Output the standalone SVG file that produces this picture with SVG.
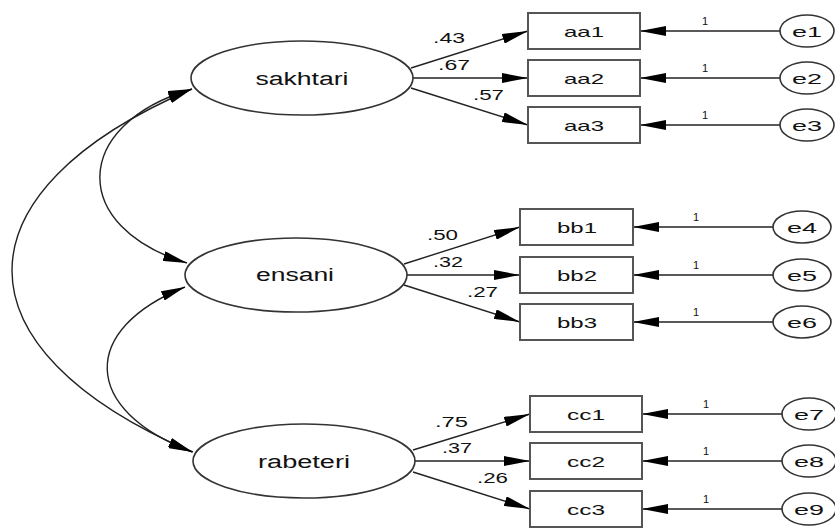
<svg xmlns="http://www.w3.org/2000/svg" width="835" height="528" viewBox="0 0 835 528">
<style>
text{font-family:"Liberation Sans",Arial,sans-serif;fill:#111;text-anchor:middle}
.lat{font-size:18px}
.obs{font-size:15px}
.err{font-size:15px}
.w{font-size:15px;text-anchor:start}
.one{font-size:11px;text-anchor:start}
ellipse{fill:#fff;stroke:#333;stroke-width:1.6}
rect{fill:#fff;stroke:#555;stroke-width:2}
.ln{fill:none;stroke:#222;stroke-width:1.4}
</style>
<defs>
<marker id="ah" markerUnits="userSpaceOnUse" markerWidth="26" markerHeight="10" refX="26" refY="5" orient="auto">
<path d="M0,0 L26,5 L0,10 z" fill="#000"/>
</marker>
<marker id="ch" markerUnits="userSpaceOnUse" markerWidth="24" markerHeight="10" refX="24" refY="5" orient="auto-start-reverse">
<path d="M0,0 L24,5 L0,10 z" fill="#000"/>
</marker>
</defs>
<g id="connectors">
<path class="ln" d="M192 89 C -48 192, -48 349, 192 452" marker-start="url(#ch)" marker-end="url(#ch)"/>
<path class="ln" d="M192 89 C 70 125, 70 228, 187 263" marker-start="url(#ch)" marker-end="url(#ch)"/>
<path class="ln" d="M185 287 C 80 329, 80 410, 193 452" marker-start="url(#ch)" marker-end="url(#ch)"/>
<line class="ln" x1="411" y1="68" x2="528" y2="31" marker-end="url(#ah)"/>
<line class="ln" x1="413" y1="78" x2="528" y2="78" marker-end="url(#ah)"/>
<line class="ln" x1="411" y1="88" x2="528" y2="125" marker-end="url(#ah)"/>
<line class="ln" x1="404" y1="264" x2="520" y2="227" marker-end="url(#ah)"/>
<line class="ln" x1="407" y1="275" x2="520" y2="275" marker-end="url(#ah)"/>
<line class="ln" x1="404" y1="285" x2="520" y2="322" marker-end="url(#ah)"/>
<line class="ln" x1="413" y1="450" x2="530" y2="414" marker-end="url(#ah)"/>
<line class="ln" x1="415" y1="461" x2="530" y2="461" marker-end="url(#ah)"/>
<line class="ln" x1="413" y1="472" x2="530" y2="509" marker-end="url(#ah)"/>
<line class="ln" x1="780" y1="31" x2="640" y2="31" marker-end="url(#ah)"/>
<line class="ln" x1="780" y1="78" x2="640" y2="78" marker-end="url(#ah)"/>
<line class="ln" x1="780" y1="125" x2="640" y2="125" marker-end="url(#ah)"/>
<line class="ln" x1="773" y1="227" x2="633" y2="227" marker-end="url(#ah)"/>
<line class="ln" x1="773" y1="275" x2="633" y2="275" marker-end="url(#ah)"/>
<line class="ln" x1="773" y1="322" x2="633" y2="322" marker-end="url(#ah)"/>
<line class="ln" x1="782" y1="414" x2="642" y2="414" marker-end="url(#ah)"/>
<line class="ln" x1="782" y1="461" x2="642" y2="461" marker-end="url(#ah)"/>
<line class="ln" x1="782" y1="509" x2="642" y2="509" marker-end="url(#ah)"/>
<text class="w" x="433" y="43" textLength="32" lengthAdjust="spacingAndGlyphs">.43</text>
<text class="w" x="438" y="70" textLength="32" lengthAdjust="spacingAndGlyphs">.67</text>
<text class="w" x="473" y="100" textLength="31" lengthAdjust="spacingAndGlyphs">.57</text>
<text class="w" x="427" y="240" textLength="31" lengthAdjust="spacingAndGlyphs">.50</text>
<text class="w" x="433" y="267" textLength="30" lengthAdjust="spacingAndGlyphs">.32</text>
<text class="w" x="467" y="297" textLength="31" lengthAdjust="spacingAndGlyphs">.27</text>
<text class="w" x="435" y="427" textLength="33" lengthAdjust="spacingAndGlyphs">.75</text>
<text class="w" x="442" y="453" textLength="30" lengthAdjust="spacingAndGlyphs">.37</text>
<text class="w" x="477" y="483" textLength="31" lengthAdjust="spacingAndGlyphs">.26</text>
<text class="one" x="702" y="25">1</text>
<text class="one" x="702" y="72">1</text>
<text class="one" x="702" y="119">1</text>
<text class="one" x="693" y="221">1</text>
<text class="one" x="693" y="269">1</text>
<text class="one" x="693" y="316">1</text>
<text class="one" x="703" y="408">1</text>
<text class="one" x="703" y="455">1</text>
<text class="one" x="703" y="503">1</text>
</g>
<g id="sakhtari"><ellipse cx="302" cy="78" rx="111" ry="37"/><text class="lat" x="302" y="85" textLength="93" lengthAdjust="spacingAndGlyphs">sakhtari</text></g>
<g id="ensani"><ellipse cx="296" cy="275" rx="111" ry="37"/><text class="lat" x="295" y="281" textLength="78" lengthAdjust="spacingAndGlyphs">ensani</text></g>
<g id="rabeteri"><ellipse cx="304" cy="461" rx="111" ry="37"/><text class="lat" x="304" y="468" textLength="92" lengthAdjust="spacingAndGlyphs">rabeteri</text></g>
<g id="aa1"><rect x="528" y="13" width="112" height="36"/><text class="obs" x="584" y="37" textLength="40" lengthAdjust="spacingAndGlyphs">aa1</text></g>
<g id="aa2"><rect x="528" y="60" width="112" height="36"/><text class="obs" x="584" y="84" textLength="40" lengthAdjust="spacingAndGlyphs">aa2</text></g>
<g id="aa3"><rect x="528" y="107" width="112" height="36"/><text class="obs" x="584" y="131" textLength="40" lengthAdjust="spacingAndGlyphs">aa3</text></g>
<g id="bb1"><rect x="520" y="209" width="113" height="36"/><text class="obs" x="577" y="233" textLength="40" lengthAdjust="spacingAndGlyphs">bb1</text></g>
<g id="bb2"><rect x="520" y="257" width="113" height="36"/><text class="obs" x="577" y="281" textLength="40" lengthAdjust="spacingAndGlyphs">bb2</text></g>
<g id="bb3"><rect x="520" y="304" width="113" height="36"/><text class="obs" x="577" y="328" textLength="40" lengthAdjust="spacingAndGlyphs">bb3</text></g>
<g id="cc1"><rect x="530" y="396" width="112" height="36"/><text class="obs" x="586" y="420" textLength="38" lengthAdjust="spacingAndGlyphs">cc1</text></g>
<g id="cc2"><rect x="530" y="443" width="112" height="36"/><text class="obs" x="586" y="467" textLength="38" lengthAdjust="spacingAndGlyphs">cc2</text></g>
<g id="cc3"><rect x="530" y="491" width="112" height="36"/><text class="obs" x="586" y="515" textLength="38" lengthAdjust="spacingAndGlyphs">cc3</text></g>
<g id="e1"><ellipse cx="807" cy="31" rx="27" ry="16"/><text class="err" x="807" y="37" textLength="30" lengthAdjust="spacingAndGlyphs">e1</text></g>
<g id="e2"><ellipse cx="807" cy="78" rx="27" ry="16"/><text class="err" x="807" y="84" textLength="30" lengthAdjust="spacingAndGlyphs">e2</text></g>
<g id="e3"><ellipse cx="807" cy="125" rx="27" ry="16"/><text class="err" x="807" y="131" textLength="30" lengthAdjust="spacingAndGlyphs">e3</text></g>
<g id="e4"><ellipse cx="802" cy="227" rx="29" ry="16"/><text class="err" x="802" y="233" textLength="30" lengthAdjust="spacingAndGlyphs">e4</text></g>
<g id="e5"><ellipse cx="802" cy="275" rx="29" ry="16"/><text class="err" x="802" y="281" textLength="30" lengthAdjust="spacingAndGlyphs">e5</text></g>
<g id="e6"><ellipse cx="802" cy="322" rx="29" ry="16"/><text class="err" x="802" y="328" textLength="30" lengthAdjust="spacingAndGlyphs">e6</text></g>
<g id="e7"><ellipse cx="809" cy="414" rx="27" ry="16"/><text class="err" x="809" y="420" textLength="30" lengthAdjust="spacingAndGlyphs">e7</text></g>
<g id="e8"><ellipse cx="809" cy="461" rx="27" ry="16"/><text class="err" x="809" y="467" textLength="30" lengthAdjust="spacingAndGlyphs">e8</text></g>
<g id="e9"><ellipse cx="809" cy="509" rx="27" ry="16"/><text class="err" x="809" y="515" textLength="30" lengthAdjust="spacingAndGlyphs">e9</text></g>
</svg>
